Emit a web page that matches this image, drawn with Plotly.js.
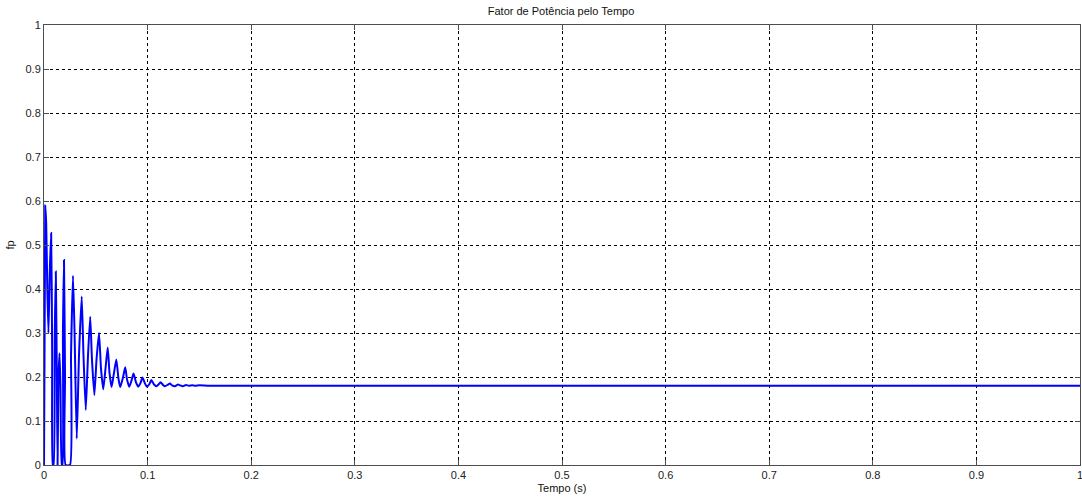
<!DOCTYPE html>
<html>
<head>
<meta charset="utf-8">
<script src="https://cdn.plot.ly/plotly-3.0.1.min.js"></script>
<style>html,body{margin:0;padding:0;background:#fff;}#chart{width:1082px;height:501px;}</style>
</head>
<body>
<div id="chart"></div>
<script>
// Time samples (s)
var tempo = [0, 0.0012, 0.0021, 0.0032, 0.0043, 0.0056, 0.0069, 0.0079, 0.0085, 0.0092,
  0.0104, 0.0114, 0.0124, 0.0131, 0.0140, 0.0150, 0.0159, 0.0172, 0.0178, 0.0183, 0.0193,
  0.0203, 0.0209, 0.0251, 0.0261, 0.0280, 0.0295,
  0.0316, 0.0338, 0.0364, 0.0381, 0.0403, 0.0425, 0.0446, 0.0463, 0.0486, 0.0507, 0.0531,
  0.0550, 0.0572, 0.0594, 0.0615, 0.0632, 0.0652, 0.0676, 0.0698, 0.0719, 0.0736, 0.0763,
  0.0784, 0.0801, 0.0823, 0.0845, 0.0864, 0.0888, 0.0910, 0.0931, 0.0951, 0.0975, 0.0994,
  0.1018, 0.1036, 0.1062, 0.1086, 0.1105, 0.1125, 0.1149, 0.1168, 0.1192, 0.1216, 0.1236,
  0.1264, 0.1293, 0.1313, 0.1340, 0.1370, 0.1400, 0.1430, 0.1460, 0.1500, 0.1600, 1.0];
// Power factor values
var fp = [0, 0.59, 0.55, 0.40, 0.30, 0.44, 0.527, 0.25, 0.00, 0.00,
  0.30, 0.44, 0.20, 0.00, 0.20, 0.254, 0.18, 0.00, 0.00, 0.30, 0.466,
  0.20, 0.00, 0.00, 0.25, 0.43, 0.30,
  0.06, 0.25, 0.383, 0.25, 0.125, 0.25, 0.337, 0.24, 0.159, 0.24, 0.300,
  0.22, 0.172, 0.22, 0.267, 0.21, 0.177, 0.21, 0.240, 0.196, 0.177, 0.20,
  0.222, 0.195, 0.178, 0.192, 0.208, 0.188, 0.178, 0.186, 0.199, 0.185, 0.178,
  0.184, 0.193, 0.183, 0.179, 0.183, 0.188, 0.182, 0.179, 0.182, 0.185, 0.181,
  0.179, 0.183, 0.181, 0.179, 0.182, 0.180, 0.181, 0.180, 0.181, 0.180, 0.180];

var xTicks = [0, 0.1, 0.2, 0.3, 0.4, 0.5, 0.6, 0.7, 0.8, 0.9, 1];
var xTickText = ['0', '0.1', '0.2', '0.3', '0.4', '0.5', '0.6', '0.7', '0.8', '0.9', '1'];
var yTicks = [0, 0.1, 0.2, 0.3, 0.4, 0.5, 0.6, 0.7, 0.8, 0.9, 1];
var yTickText = ['0', '0.1', '0.2', '0.3', '0.4', '0.5', '0.6', '0.7', '0.8', '0.9', '1'];

var trace = {
  x: tempo, y: fp, type: 'scatter', mode: 'lines',
  line: {color: '#0000ff', width: 2, shape: 'spline', smoothing: 0.5},
  hoverinfo: 'x+y'
};

var axisCommon = {
  showline: true, mirror: 'ticks', linecolor: '#4d4d4d', linewidth: 1,
  ticks: 'inside', ticklen: 5, tickcolor: '#4d4d4d',
  showgrid: true, gridcolor: '#000000', gridwidth: 1, griddash: '3px,3px',
  zeroline: false, ticklabeloverflow: 'allow',
  tickfont: {family: 'Arial, Liberation Sans, sans-serif', size: 11, color: '#222222'}
};

var layout = {
  width: 1082, height: 501,
  margin: {l: 44, r: 2, t: 25, b: 36},
  paper_bgcolor: '#ffffff', plot_bgcolor: '#ffffff',
  showlegend: false,
  title: {text: 'Fator de Potência pelo Tempo', x: 0.5185, xanchor: 'center', y: 0.985, yanchor: 'top',
    font: {family: 'Arial, Liberation Sans, sans-serif', size: 11, color: '#111111'}},
  xaxis: Object.assign({}, axisCommon, {
    range: [0, 1], tickvals: xTicks, ticktext: xTickText,
    title: {text: 'Tempo (s)', standoff: 4, font: {family: 'Arial, Liberation Sans, sans-serif', size: 11, color: '#111111'}}
  }),
  yaxis: Object.assign({}, axisCommon, {
    range: [0, 1], tickvals: yTicks, ticktext: yTickText,
    title: {text: 'fp', standoff: 8, font: {family: 'Arial, Liberation Sans, sans-serif', size: 11, color: '#111111'}}
  })
};

Plotly.newPlot('chart', [trace], layout, {displayModeBar: false, staticPlot: true});
</script>
</body>
</html>
